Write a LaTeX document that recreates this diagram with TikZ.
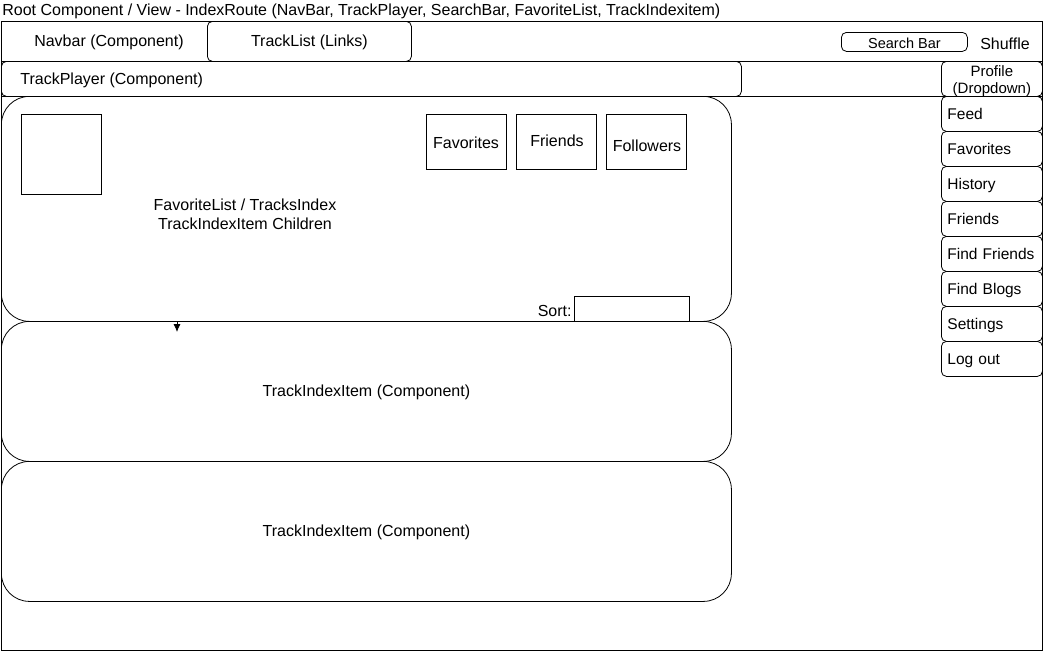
\documentclass[tikz,border=0pt]{standalone}
\usepackage{fontspec}
\setmainfont{Liberation Sans}
\usetikzlibrary{arrows.meta,positioning}

\begin{document}
\begin{tikzpicture}[x=1pt, y=-1pt, line width=0.8pt, font=\fontsize{16}{18}\selectfont]
        \tikzstyle{block} = [draw, rectangle, inner sep=0pt, anchor=north west]
        \tikzstyle{tab} = [block, rounded corners=5pt]
        \tikzstyle{panel} = [block, rounded corners=28pt]
        \tikzstyle{menuitem} = [tab, minimum width=101pt, minimum height=35pt, text width=89pt, inner xsep=6pt, align=left, text height=13pt, text depth=1pt]
        \tikzstyle{label} = [inner sep=0pt, yshift=-1pt]
        \tikzstyle{line} = [draw, -{Latex[length=8pt,width=7pt]}]

        \useasboundingbox (0,0) rectangle (1043,651);

        \node [inner sep=0pt, anchor=base west] (title) at (2,15) {Root Component / View - IndexRoute (NavBar, TrackPlayer, SearchBar, FavoriteList, TrackIndexitem)};
        \node [block, minimum width=1041pt, minimum height=629pt] (root) at (1,21) {};

        % top rows
        \node [block, minimum width=1041pt, minimum height=40pt] (navrow) at (1,21) {};
        \node [block, minimum width=1041pt, minimum height=35pt] (playerrow) at (1,61) {};
        \node [label] (navbar) at (109,41) {Navbar (Component)};
        \node [tab, minimum width=204pt, minimum height=40pt] (tracklist) at (207,21) {};
        \node [label] at (tracklist.center) {TrackList (Links)};
        \node [tab, minimum width=126pt, minimum height=19pt] (search) at (841,32) {};
        \node [label, font=\fontsize{14.5}{17}\selectfont] at (search.center) {Search Bar};
        \node [label] (shuffle) at (1005,43) {Shuffle};
        \node [tab, minimum width=740pt, minimum height=35pt] (player) at (1,61) {};
        \node [label, anchor=west] at (20,79) {TrackPlayer (Component)};
        \node [tab, minimum width=101pt, minimum height=35pt] (profile) at (941,61) {};
        \node [label, align=center, yshift=-1pt, font=\fontsize{15}{17}\selectfont] at (profile.center) {Profile\\(Dropdown)};

        % dropdown menu
        \foreach \name [count=\i] in {Feed, Favorites, History, Friends, Find Friends, Find Blogs, Settings, Log out}
            \node [menuitem, font=\fontsize{15.5}{17}\selectfont] (menu\i) at (941,{96+35*(\i-1)}) {\name};

        % favorite list
        \node [panel, minimum width=730pt, minimum height=225pt] (favlist) at (1,96) {};
        \node [block, minimum width=80pt, minimum height=80pt] (cover) at (21,114) {};
        \node [label, align=center, font=\fontsize{16}{19}\selectfont] (favtext) at (245,213) {FavoriteList / TracksIndex\\TrackIndexItem Children};
        \node [block, minimum width=80pt, minimum height=55pt] (favorites) at (426,114) {};
        \node [label] at (466,142) {Favorites};
        \node [block, minimum width=80pt, minimum height=55pt] (friends) at (516,114) {};
        \node [label] at (557,140) {Friends};
        \node [block, minimum width=80pt, minimum height=55pt] (followers) at (606,114) {};
        \node [label] at (647,145) {Followers};
        \node [block, minimum width=115pt, minimum height=25pt] (sort) at (574,296) {};
        \node [label, anchor=east] at (572,310) {Sort:};

        % track index items
        \node [panel, minimum width=730pt, minimum height=140pt] (item1) at (1,321) {};
        \node [label] at (item1.center) {TrackIndexItem (Component)};
        \node [panel, minimum width=730pt, minimum height=140pt] (item2) at (1,461) {};
        \node [label] at (item2.center) {TrackIndexItem (Component)};

        \coordinate (arrowend) at (177,332);
        \path [line] (favlist.south -| arrowend) -- (arrowend);
    \end{tikzpicture}
\end{document}
